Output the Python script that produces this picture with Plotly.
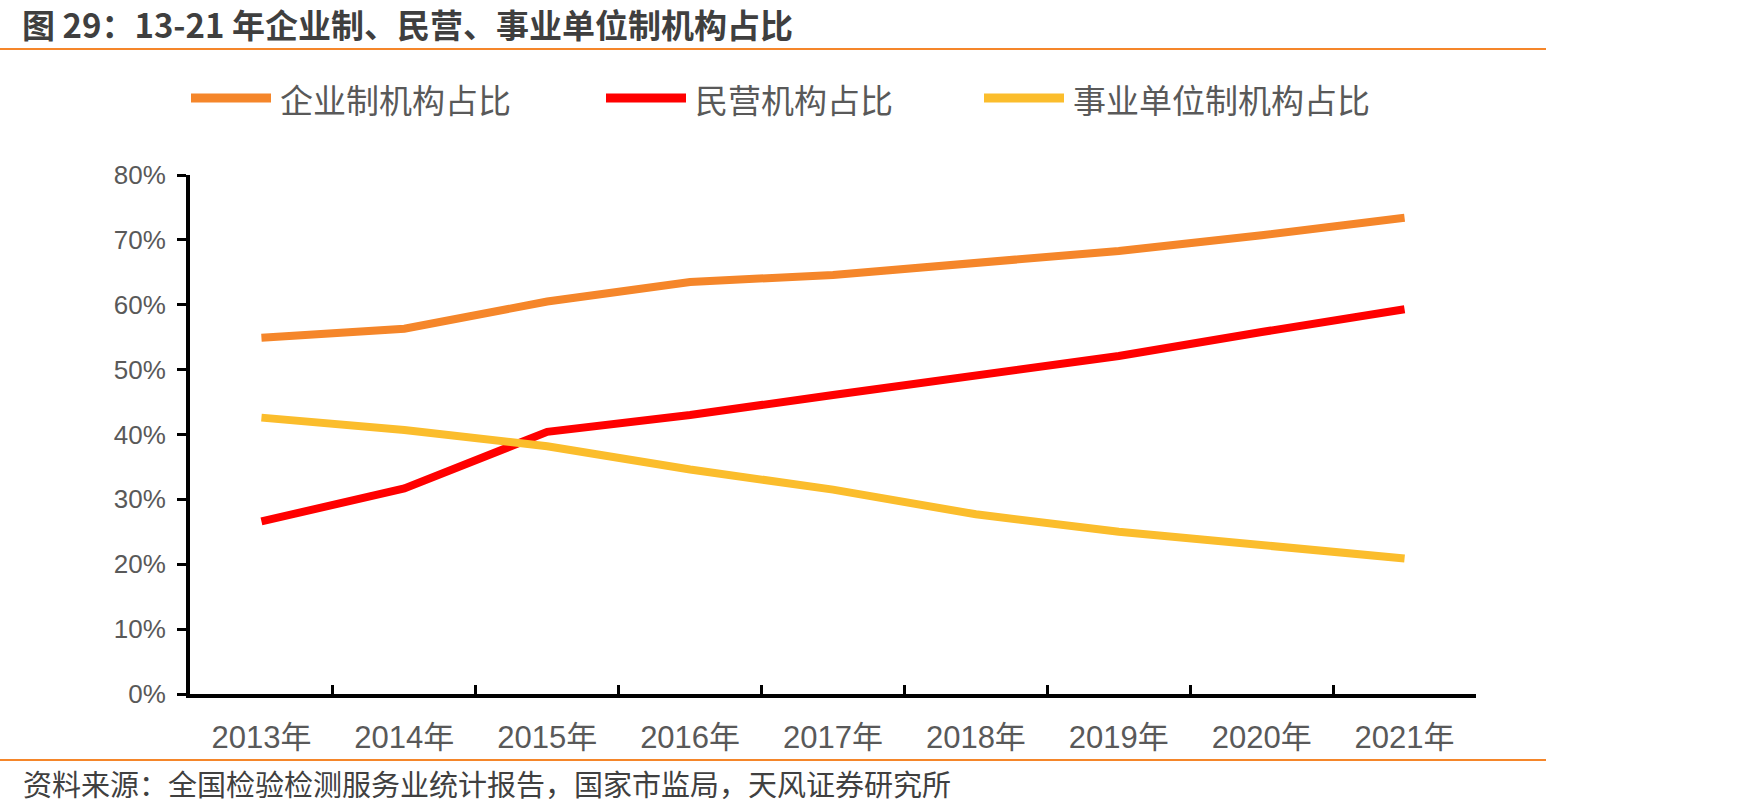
import plotly.graph_objects as go

years = ["2013年", "2014年", "2015年", "2016年", "2017年", "2018年", "2019年", "2020年", "2021年"]
enterprise = [0.549, 0.563, 0.605, 0.635, 0.646, 0.663, 0.683, 0.707, 0.734]
private = [0.266, 0.317, 0.404, 0.430, 0.461, 0.490, 0.521, 0.558, 0.593]
institution = [0.426, 0.407, 0.382, 0.346, 0.315, 0.277, 0.250, 0.229, 0.209]
series_names = ["企业制机构占比", "民营机构占比", "事业单位制机构占比"]
colors = ["#F5862A", "#FF0000", "#FBBD2C"]
title_text = "图 29：13-21 年企业制、民营、事业单位制机构占比"
source_text = "资料来源：全国检验检测服务业统计报告，国家市监局，天风证券研究所"

W, H = 1747, 812
L, R, T, B = 190, 271, 175, 118
PW, PH = W - L - R, H - T - B

def px(x):
    return (x - L) / PW

def py(y):
    return (H - B - y) / PH

FONT = "Liberation Sans, Arial, Noto Sans CJK SC, sans-serif"
GRAY = "#595959"

fig = go.Figure()
for name, vals, c in zip(series_names, [enterprise, private, institution], colors):
    fig.add_trace(go.Scatter(x=years, y=vals, mode="lines", name=name,
                             line=dict(color=c, width=8), showlegend=False))

shapes = []
annotations = []
# legend
leg_x = [187, 602, 980]
for (x0, name, c) in zip(leg_x, series_names, colors):
    shapes.append(dict(type="line", xref="paper", yref="paper",
                       x0=px(x0 + 4), x1=px(x0 + 84), y0=py(98), y1=py(98),
                       line=dict(color=c, width=9)))
    annotations.append(dict(xref="paper", yref="paper", x=px(x0 + 91), y=py(99),
                            text=name, showarrow=False, xanchor="left", yanchor="middle",
                            font=dict(family="Noto Sans CJK SC, sans-serif", size=33, color=GRAY)))

# title
annotations.append(dict(xref="paper", yref="paper", x=px(20), y=py(24), text="<b>" + title_text + "</b>",
                        showarrow=False, xanchor="left", yanchor="middle",
                        font=dict(family="Noto Sans CJK SC, sans-serif", size=33, color="#3F3F3F")))
# source
annotations.append(dict(xref="paper", yref="paper", x=px(21), y=py(783), text=source_text,
                        showarrow=False, xanchor="left", yanchor="middle",
                        font=dict(family="Noto Sans CJK SC, sans-serif", size=29, color="#404040")))
# separator lines
for yline in (49, 760):
    shapes.append(dict(type="line", xref="paper", yref="paper",
                       x0=px(0), x1=px(1546), y0=py(yline), y1=py(yline),
                       line=dict(color="#F5862A", width=2)))

fig.update_layout(
    width=W, height=H,
    margin=dict(l=L, r=R, t=T, b=B),
    paper_bgcolor="white", plot_bgcolor="white",
    font=dict(family=FONT, color=GRAY),
    shapes=shapes, annotations=annotations,
    showlegend=False,
)
fig.update_xaxes(type="category", range=[-0.5, 8.5], tickson="boundaries",
                 ticks="inside", ticklen=9, tickwidth=3, tickcolor="black",
                 showline=True, linewidth=4, linecolor="black", showgrid=False,
                 tickfont=dict(family=FONT, size=31, color=GRAY), ticklabelstandoff=13)
fig.update_yaxes(range=[0, 0.8], dtick=0.1, tickformat=".0%",
                 ticks="outside", ticklen=9, tickwidth=3, tickcolor="black",
                 showline=True, linewidth=4, linecolor="black", showgrid=False, zeroline=False,
                 tickfont=dict(family=FONT, size=26, color=GRAY), ticklabelstandoff=6)

fig.write_html("out.html")
